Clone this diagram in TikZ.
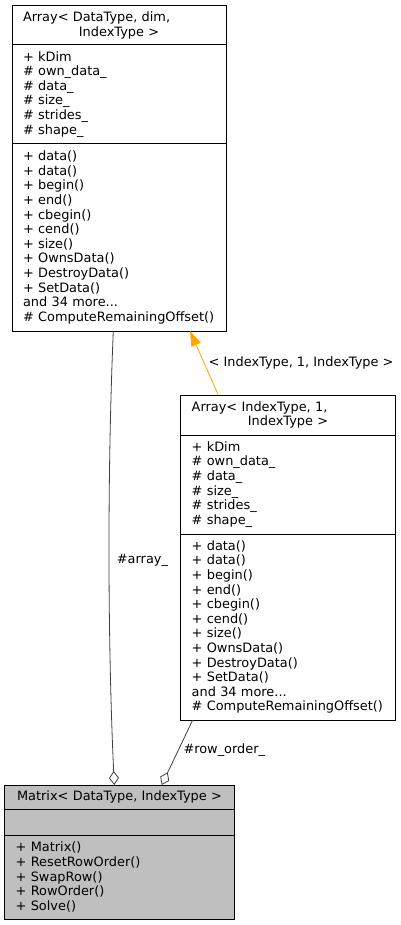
\documentclass[tikz,border=0pt]{standalone}
\usepackage{fontspec}
\setmainfont{DejaVu Sans}
\usetikzlibrary{positioning,arrows.meta}
\definecolor{edgegray}{HTML}{404040}
\definecolor{tmplorange}{HTML}{FFA500}
\definecolor{classgray}{HTML}{BFBFBF}
\tikzset{
	compart/.style={draw=black, line width=1pt, outer sep=0pt, inner xsep=11pt, inner ysep=0pt,
		text width=#1, align=left, anchor=north west, font=\fontsize{12.9}{14.6}\selectfont},
	usage/.style={draw=edgegray, line width=0.8pt, -{Diamond[open, length=14pt, width=10pt, line width=0.8pt]}},
	tmpl/.style={draw=tmplorange, line width=0.8pt, -{Triangle[length=15pt, width=10pt]}, tmplorange},
	edgelabel/.style={anchor=west, inner sep=0pt, font=\fontsize{12.9}{14.6}\selectfont}
}
\begin{document}
\begin{tikzpicture}[x=1pt, y=-1pt]
	\useasboundingbox (0,0) rectangle (401,925);
	
	% template class
	\node[compart=192pt, align=center, minimum height=38.3pt] (arrAtitle) at (12,6)
		{\makebox[\hsize][l]{Array< DataType, dim,}\\IndexType >};
	\node[compart=192pt, minimum height=99.7pt, below=0pt of arrAtitle] (arrAattr)
		{+ kDim\\\# own\_data\_\\\# data\_\\\# size\_\\\# strides\_\\\# shape\_};
	\node[compart=192pt, minimum height=187pt, below=0pt of arrAattr] (arrAmeth)
		{+ data()\\+ data()\\+ begin()\\+ end()\\+ cbegin()\\+ cend()\\+ size()\\+ OwnsData()\\+ DestroyData()\\+ SetData()\\and 34 more...\\\# ComputeRemainingOffset()};
	
	% instance
	\node[compart=192.6pt, align=center, minimum height=40pt] (arrBtitle) at (180.7,395)
		{\makebox[\hsize][l]{Array< IndexType, 1,}\\IndexType >};
	\node[compart=192.6pt, minimum height=99pt, below=0pt of arrBtitle] (arrBattr)
		{+ kDim\\\# own\_data\_\\\# data\_\\\# size\_\\\# strides\_\\\# shape\_};
	\node[compart=192.6pt, minimum height=186pt, below=0pt of arrBattr] (arrBmeth)
		{+ data()\\+ data()\\+ begin()\\+ end()\\+ cbegin()\\+ cend()\\+ size()\\+ OwnsData()\\+ DestroyData()\\+ SetData()\\and 34 more...\\\# ComputeRemainingOffset()};
	
	% matrix
	\node[compart=207.6pt, align=center, fill=classgray, minimum height=24pt] (matTitle) at (4.7,785)
		{Matrix< DataType, IndexType >};
	\node[compart=207.6pt, fill=classgray, minimum height=26pt, below=0pt of matTitle] (matAttr) {};
	\node[compart=207.6pt, fill=classgray, minimum height=84pt, below=0pt of matAttr] (matMeth)
		{+ Matrix()\\+ ResetRowOrder()\\+ SwapRow()\\+ RowOrder()\\+ Solve()};
	
	% connectors
	\draw[tmpl] ([xshift=37.6pt]arrBtitle.north west) -- ([xshift=178pt]arrAmeth.south west);
	\draw[usage] ([xshift=101.3pt]arrAmeth.south west) .. controls (107,480) and (108,650) .. ([xshift=109.6pt]matTitle.north west);
	\draw[usage] ([xshift=12pt]arrBmeth.south west) -- ([xshift=157pt]matTitle.north west);
	
	\node[edgelabel] (tmplLabel) at (208.5,362.7) {< IndexType, 1, IndexType >};
	\node[edgelabel] (arrayLabel) at (116.7,560) {\#array\_};
	\node[edgelabel] (rowLabel) at (183.3,750) {\#row\_order\_};
\end{tikzpicture}
\end{document}
